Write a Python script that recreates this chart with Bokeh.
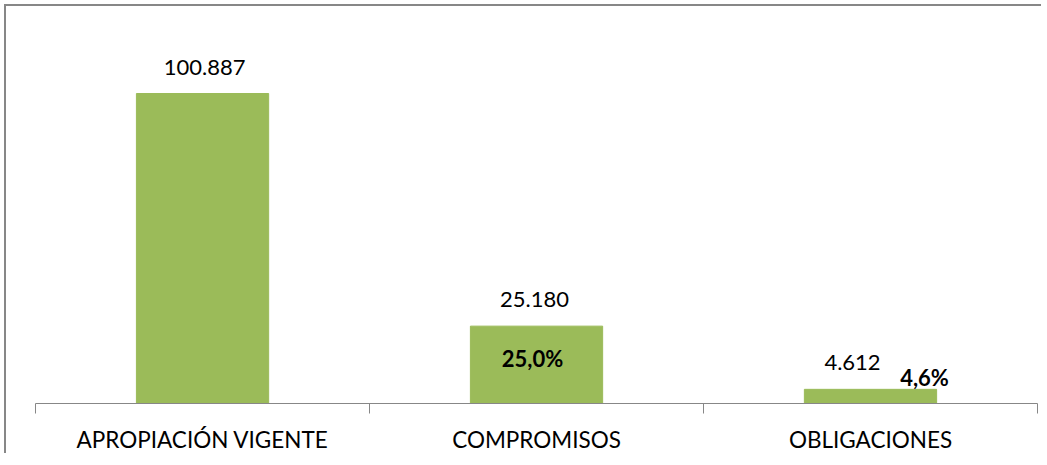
from bokeh.plotting import figure
from bokeh.models import Range1d, FixedTicker, LabelSet, ColumnDataSource, Label
from bokeh.core.properties import value
from bokeh.embed import file_html
from bokeh.resources import INLINE

categories = ["APROPIACIÓN VIGENTE", "COMPROMISOS", "OBLIGACIONES"]
values = [100.887, 25.180, 4.612]
value_labels = ["100.887", "25.180", "4.612"]
pct_labels = ["25,0%", "4,6%"]

idx = list(range(len(categories)))
FONT = "Lato"

p = figure(width=1037, height=449, output_backend="svg", toolbar_location=None,
           x_range=Range1d(-0.584, 2.515), y_range=Range1d(0, 127.9),
           min_border_left=1, min_border_right=1, min_border_top=4,
           min_border_bottom=52)
p.styles = {"border-left": "2px solid #878787", "border-top": "2px solid #878787",
            "margin-left": "4px", "margin-top": "4px"}
p.outline_line_color = None
p.background_fill_color = "white"
p.border_fill_color = "white"
p.xgrid.visible = False
p.ygrid.visible = False
p.yaxis.visible = False

src = ColumnDataSource(dict(x=idx, top=values, lab=value_labels, dx=[2, -2, -18]))
p.vbar(x="x", top="top", width=0.396, source=src, fill_color="#9BBB59",
       line_color="#9BBB59")

ax = p.xaxis[0]
ax.ticker = FixedTicker(ticks=idx, minor_ticks=[i - 0.5 for i in idx] + [idx[-1] + 0.5])
ax.bounds = (-0.5, len(idx) - 0.5)
ax.major_label_overrides = {i: c for i, c in zip(idx, categories)}
ax.major_tick_out = 0
ax.major_tick_in = 0
ax.minor_tick_out = 10
ax.minor_tick_in = 0
ax.axis_line_color = "#878787"
ax.minor_tick_line_color = "#878787"
ax.major_label_text_font = FONT
ax.major_label_text_font_size = "22.5px"
ax.major_label_text_color = "black"
ax.major_label_standoff = 12

p.add_layout(LabelSet(x="x", y="top", text="lab", source=src, text_align="center",
                      text_baseline="bottom", x_offset="dx", y_offset=19,
                      text_font=value(FONT), text_font_size=value("22px"),
                      text_color="black"))

p.add_layout(Label(x=idx[1], y=values[1] / 2, text=pct_labels[0], text_align="center",
                   text_baseline="middle", x_offset=-4, y_offset=6, text_font=FONT,
                   text_font_size="22px", text_font_style="bold", text_color="black"))
p.add_layout(Label(x=idx[2], y=values[2], text=pct_labels[1], text_align="center",
                   text_baseline="middle", x_offset=54, y_offset=12, text_font=FONT,
                   text_font_size="22px", text_font_style="bold", text_color="black"))

open("out.html", "w").write(file_html(p, INLINE))
